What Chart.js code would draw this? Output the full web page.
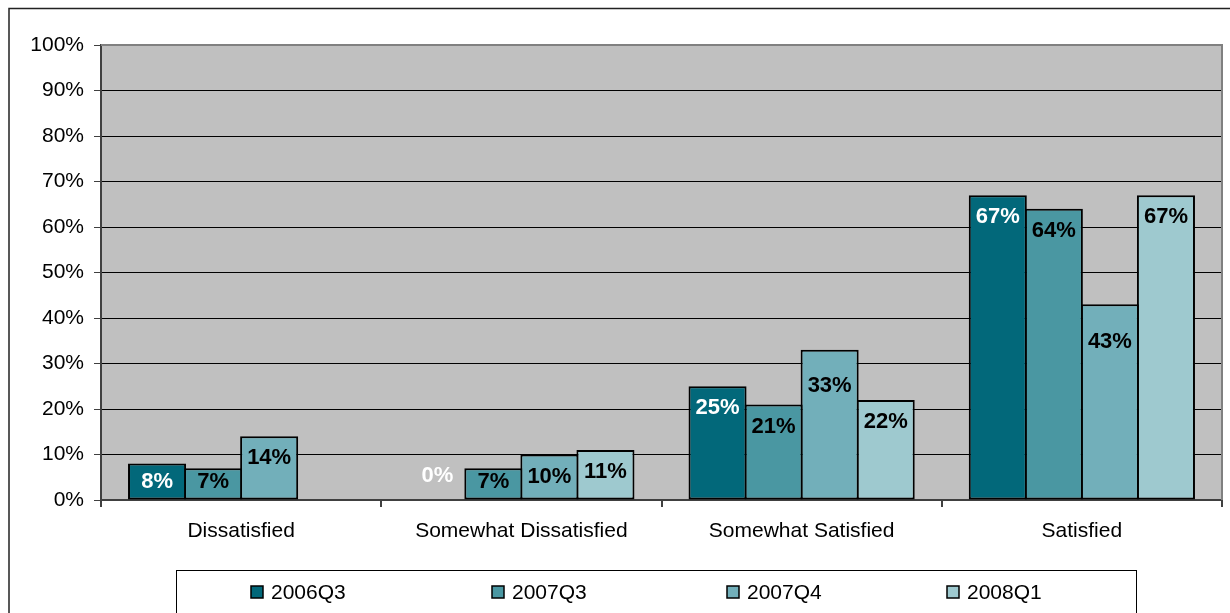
<!DOCTYPE html>
<html>
<head>
<meta charset="utf-8">
<title>Satisfaction by quarter</title>
<script src="https://cdn.jsdelivr.net/npm/chart.js@4.4.1/dist/chart.umd.min.js"></script>
<style>
  html, body { margin: 0; padding: 0; background: #ffffff; }
  #wrap { width: 1230px; height: 613px; position: relative; }
</style>
</head>
<body>
<div id="wrap"><canvas id="chart" width="1230" height="613"></canvas></div>
<script>
// Survey categories and the share of respondents (in %) for each quarter
const categories = ['Dissatisfied', 'Somewhat Dissatisfied', 'Somewhat Satisfied', 'Satisfied'];
const seriesNames = ['2006Q3', '2007Q3', '2007Q4', '2008Q1'];
const q2006Q3 = [8, 0, 25, 67];
const q2007Q3 = [7, 7, 21, 64];
const q2007Q4 = [14, 10, 33, 43];
const q2008Q1 = [null, 11, 22, 67];
const yTickValues = [0, 10, 20, 30, 40, 50, 60, 70, 80, 90, 100];

const seriesValues = [q2006Q3, q2007Q3, q2007Q4, q2008Q1];
const seriesColors = ['#02687A', '#4A97A2', '#72AFBA', '#9EC9CF'];
const labelColors = ['#ffffff', '#000000', '#000000', '#000000'];

const FONT = '"Liberation Sans", Arial, sans-serif';

// Distance (px) from a bar's top to the centre of its value label; a few labels sit lower.
const LABEL_DROP = 22;
const labelDropOverride = { '2:2': 36, '2:3': 38, '0:1': -24 };

// Plot background and its grey top/right frame
const plotFrame = {
  id: 'plotFrame',
  beforeDraw(chart) {
    const { ctx, chartArea: a } = chart;
    ctx.save();
    ctx.fillStyle = '#C0C0C0';
    ctx.fillRect(a.left, a.top, a.right - a.left, a.bottom - a.top);
    // outer frame of the whole chart
    ctx.strokeStyle = '#222222';
    ctx.lineWidth = 1.5;
    ctx.strokeRect(9, 8.5, 1300, 700);
    ctx.restore();
  },
  afterDatasetsDraw(chart) {
    const { ctx, chartArea: a } = chart;
    ctx.save();
    ctx.strokeStyle = '#808080';
    ctx.lineWidth = 2;
    ctx.beginPath();
    ctx.moveTo(a.left, a.top);
    ctx.lineTo(a.right, a.top);
    ctx.lineTo(a.right, a.bottom);
    ctx.stroke();
    ctx.restore();
  }
};

// Value labels inside the top of each bar
const valueLabels = {
  id: 'valueLabels',
  afterDatasetsDraw(chart) {
    const { ctx } = chart;
    const base = chart.scales.y.getPixelForValue(0);
    ctx.save();
    ctx.font = 'bold 22px ' + FONT;
    ctx.textAlign = 'center';
    ctx.textBaseline = 'middle';
    chart.data.datasets.forEach((ds, di) => {
      const meta = chart.getDatasetMeta(di);
      meta.data.forEach((bar, i) => {
        const v = ds.data[i];
        if (v === null || v === undefined) return;
        const key = di + ':' + i;
        const drop = key in labelDropOverride ? labelDropOverride[key] : LABEL_DROP;
        const y = Math.min(bar.y + drop, base - 18);
        ctx.fillStyle = labelColors[di];
        ctx.fillText(v + '%', bar.x, y);
      });
    });
    ctx.restore();
  }
};

// Boxed legend below the axis
const boxedLegend = {
  id: 'boxedLegend',
  afterDraw(chart) {
    const { ctx } = chart;
    const itemX = [251, 492, 727, 947];
    const cy = 592;
    ctx.save();
    ctx.strokeStyle = '#000000';
    ctx.lineWidth = 1;
    ctx.strokeRect(176.5, 570.5, 960, 60);
    ctx.font = '21px ' + FONT;
    ctx.textBaseline = 'middle';
    ctx.textAlign = 'left';
    chart.data.datasets.forEach((ds, i) => {
      const x = itemX[i];
      ctx.fillStyle = ds.backgroundColor;
      ctx.fillRect(x, cy - 6, 12, 12);
      ctx.strokeStyle = '#000000';
      ctx.lineWidth = 1.5;
      ctx.strokeRect(x, cy - 6, 12, 12);
      ctx.fillStyle = '#000000';
      ctx.fillText(ds.label, x + 20, cy + 1);
    });
    ctx.restore();
  }
};

// Bars are 2px wider than their slot so neighbouring borders overlap into one 2px line
const SLOT_OVERLAP = 58 / 56;

new Chart(document.getElementById('chart'), {
  type: 'bar',
  data: {
    labels: categories,
    datasets: seriesNames.map((name, i) => ({
      label: name,
      data: seriesValues[i],
      backgroundColor: seriesColors[i],
      borderColor: '#000000',
      borderWidth: 2,
      borderSkipped: false,
      categoryPercentage: 0.8,
      barPercentage: SLOT_OVERLAP
    }))
  },
  options: {
    responsive: false,
    animation: false,
    devicePixelRatio: 1,
    layout: { padding: { left: 0, right: 8, top: 45, bottom: 63 } },
    plugins: {
      legend: { display: false },
      tooltip: { enabled: false }
    },
    scales: {
      x: {
        afterFit(s) { s.height = 50; },
        grid: {
          offset: true,
          drawOnChartArea: false,
          drawTicks: true,
          tickLength: 7,
          color: '#404040',
          lineWidth: 2
        },
        border: { display: true, color: '#404040', width: 2 },
        ticks: {
          color: '#000000',
          padding: 12,
          maxRotation: 0,
          font: { family: FONT, size: 21 }
        }
      },
      y: {
        min: 0,
        max: 100,
        afterFit(s) { s.width = 101; },
        afterBuildTicks(s) { s.ticks = yTickValues.map(v => ({ value: v })); },
        grid: {
          color: '#000000',
          lineWidth: 1,
          tickLength: 7,
          tickColor: '#404040'
        },
        border: { display: true, color: '#404040', width: 2 },
        ticks: {
          color: '#000000',
          padding: 10,
          font: { family: FONT, size: 21 },
          callback: v => v + '%'
        }
      }
    }
  },
  plugins: [plotFrame, valueLabels, boxedLegend]
});
</script>
</body>
</html>
